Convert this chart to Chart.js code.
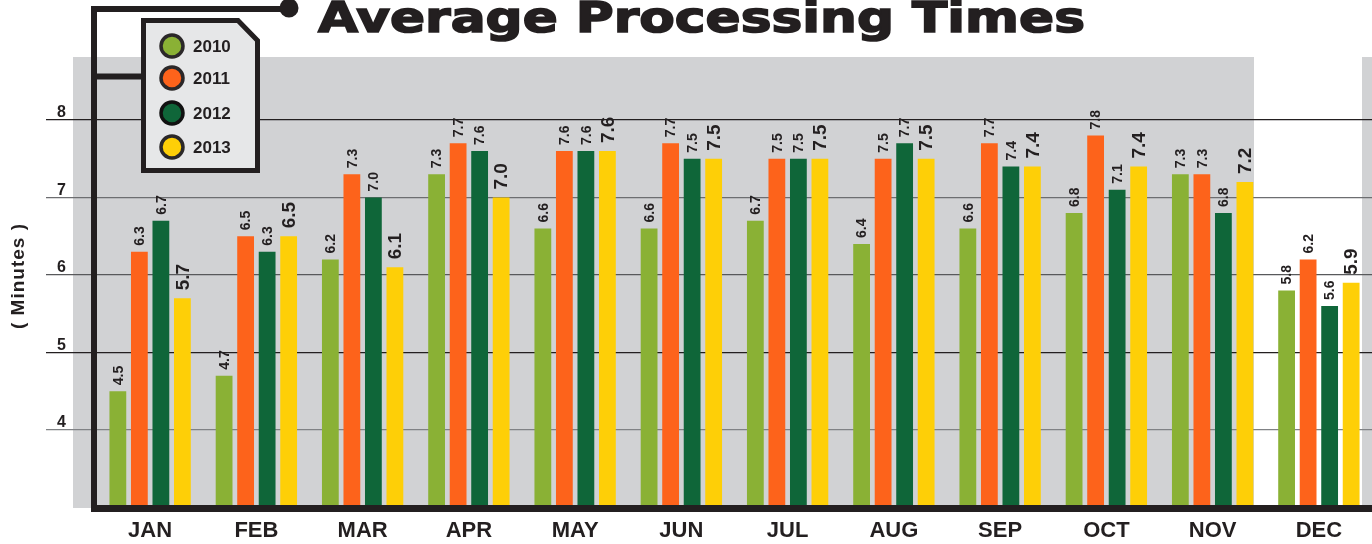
<!DOCTYPE html>
<html>
<head>
<meta charset="utf-8">
<script src="https://cdn.jsdelivr.net/npm/chart.js@4.4.1/dist/chart.umd.min.js"></script>
<style>
  html, body { margin: 0; padding: 0; background: #ffffff; overflow: hidden; }
  #wrap { position: relative; width: 1372px; height: 544px; }
  #title { position: absolute; left: 318px; top: -4px; font-family: "DejaVu Sans", sans-serif; font-weight: bold; font-size: 43px; line-height: 43px; color: #231f20; -webkit-text-stroke: 1.6px #231f20; white-space: nowrap; transform-origin: 0 0; }
</style>
</head>
<body>
<div id="wrap">
  <canvas id="c" width="1372" height="544"></canvas>
  <div id="title">Average Processing Times</div>
</div>
<script>
const months = ["JAN","FEB","MAR","APR","MAY","JUN","JUL","AUG","SEP","OCT","NOV","DEC"];
const seriesNames = ["2010","2011","2012","2013"];
const v2010 = [4.5, 4.7, 6.2, 7.3, 6.6, 6.6, 6.7, 6.4, 6.6, 6.8, 7.3, 5.8];
const v2011 = [6.3, 6.5, 7.3, 7.7, 7.6, 7.7, 7.5, 7.5, 7.7, 7.8, 7.3, 6.2];
const v2012 = [6.7, 6.3, 7.0, 7.6, 7.6, 7.5, 7.5, 7.7, 7.4, 7.1, 6.8, 5.6];
const v2013 = [5.7, 6.5, 6.1, 7.0, 7.6, 7.5, 7.5, 7.5, 7.4, 7.4, 7.2, 5.9];
const yTicks = [4, 5, 6, 7, 8];
const colors = ["#8ab135", "#fd631b", "#0f6639", "#fecf07"];
const ink = "#231f20";

// fit title width
(function(){
  const t = document.getElementById('title');
  const w = t.getBoundingClientRect().width;
  t.style.transform = 'scaleX(' + (767 / w) + ')';
})();

const gridColorFor = v => ({8:"#231f20",7:"#6d6e71",6:"#58595b",5:"#231f20",4:"#808285"})[v] || "#6d6e71";

const decor = {
  id: 'decor',
  beforeDraw(chart) {
    const ctx = chart.ctx;
    ctx.save();
    ctx.fillStyle = '#ffffff';
    ctx.fillRect(0, 0, chart.width, chart.height);
    ctx.fillStyle = '#d1d2d4';
    ctx.fillRect(73, 57, 1254 - 73, 451);
    ctx.fillRect(1362, 57, 20, 451);
    ctx.restore();
  },
  afterDatasetsDraw(chart) {
    const ctx = chart.ctx;
    ctx.save();
    ctx.fillStyle = ink;
    chart.data.datasets.forEach((ds, di) => {
      const meta = chart.getDatasetMeta(di);
      const big = di === 3;
      ctx.font = 'bold ' + (big ? 19 : 14) + 'px "Liberation Sans", Arial, sans-serif';
      meta.data.forEach((bar, i) => {
        ctx.save();
        ctx.translate(bar.x, bar.y - (big ? 8 : 6));
        ctx.rotate(-Math.PI / 2);
        ctx.textAlign = 'left';
        ctx.textBaseline = 'middle';
        ctx.fillText(ds.data[i].toFixed(1), 0, 1);
        ctx.restore();
      });
    });
    ctx.restore();
  },
  afterDraw(chart) {
    const ctx = chart.ctx;
    const area = chart.chartArea;
    ctx.save();
    ctx.strokeStyle = ink;
    ctx.fillStyle = ink;
    ctx.lineCap = 'butt';
    // bottom axis line
    ctx.lineWidth = 7;
    ctx.beginPath();
    ctx.moveTo(91, area.bottom + 1);
    ctx.lineTo(1372, area.bottom + 1);
    ctx.stroke();
    // vertical bracket
    ctx.lineWidth = 6;
    ctx.beginPath();
    ctx.moveTo(94, area.bottom + 4);
    ctx.lineTo(94, 9);
    ctx.lineTo(289, 9);
    ctx.stroke();
    ctx.beginPath();
    ctx.moveTo(94, 76.5);
    ctx.lineTo(143, 76.5);
    ctx.stroke();
    ctx.beginPath();
    ctx.arc(289, 8, 9.5, 0, Math.PI * 2);
    ctx.fill();
    // legend box
    ctx.lineWidth = 5;
    ctx.lineJoin = 'miter';
    ctx.beginPath();
    ctx.moveTo(143.5, 20.5);
    ctx.lineTo(238, 20.5);
    ctx.lineTo(257.5, 40.5);
    ctx.lineTo(257.5, 170.5);
    ctx.lineTo(143.5, 170.5);
    ctx.closePath();
    ctx.fillStyle = '#e6e7e8';
    ctx.fill();
    ctx.stroke();
    const ys = [46, 78, 113, 147];
    chart.data.datasets.forEach((ds, di) => {
      ctx.beginPath();
      ctx.arc(172, ys[di], 11, 0, Math.PI * 2);
      ctx.fillStyle = ds.backgroundColor;
      ctx.fill();
      ctx.lineWidth = 3.5;
      ctx.strokeStyle = di === 2 ? '#111111' : '#2b2829';
      ctx.stroke();
      ctx.fillStyle = ink;
      ctx.font = 'bold 17px "Liberation Sans", Arial, sans-serif';
      ctx.textAlign = 'left';
      ctx.textBaseline = 'middle';
      ctx.fillText(ds.label, 193, ys[di] + 1.5);
    });
    // axis title
    ctx.save();
    ctx.translate(19, 276);
    ctx.rotate(-Math.PI / 2);
    ctx.font = 'bold 19px "Liberation Sans", Arial, sans-serif';
    ctx.letterSpacing = '1px';
    ctx.fillStyle = ink;
    ctx.textAlign = 'center';
    ctx.textBaseline = 'middle';
    ctx.fillText('( Minutes )', 0, 0);
    ctx.restore();
    ctx.restore();
  }
};

const allSeries = [v2010, v2011, v2012, v2013];
new Chart(document.getElementById('c'), {
  type: 'bar',
  data: {
    labels: months,
    datasets: seriesNames.map((n, i) => ({
      label: n,
      data: allSeries[i],
      backgroundColor: colors[i],
      borderWidth: 0,
      categoryPercentage: 0.81,
      barPercentage: 0.78
    }))
  },
  options: {
    responsive: false,
    devicePixelRatio: 1,
    animation: false,
    layout: { padding: { top: 58, left: 0, right: 0, bottom: 0 } },
    plugins: { legend: { display: false }, tooltip: { enabled: false }, title: { display: false } },
    scales: {
      x: {
        grid: { display: false, drawTicks: false },
        border: { display: false },
        ticks: { color: ink, font: { family: '"Liberation Sans", Arial, sans-serif', size: 22, weight: 'bold' }, padding: 10, maxRotation: 0 },
        afterFit(scale) { scale.height = 36.5; }
      },
      y: {
        min: 3,
        max: 8.8,
        afterBuildTicks(scale) { scale.ticks = yTicks.map(v => ({ value: v })); },
        grid: {
          color: c => gridColorFor(c.tick && c.tick.value),
          tickColor: c => gridColorFor(c.tick && c.tick.value),
          lineWidth: 1.3,
          drawTicks: true,
          tickLength: 51
        },
        border: { display: false },
        ticks: {
          color: ink,
          font: { family: '"Liberation Sans", Arial, sans-serif', size: 16, weight: 'bold' },
          padding: -20,
          labelOffset: -7,
          callback: v => String(v)
        },
        afterFit(scale) { scale.width = 97; }
      }
    }
  },
  plugins: [decor]
});
</script>
</body>
</html>
